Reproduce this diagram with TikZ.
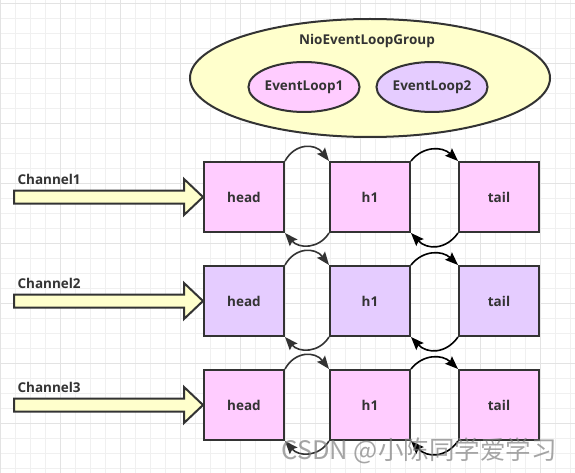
\documentclass[tikz,border=0pt]{standalone}
\usepackage{fontspec}
\setmainfont{Open Sans}
\newfontfamily\cjk{Noto Sans CJK SC}
\usetikzlibrary{arrows.meta,calc,shapes.geometric}
\definecolor{yel}{HTML}{FFFFCC}
\definecolor{pnk}{HTML}{FFCCFF}
\definecolor{lav}{HTML}{E5CCFF}
\definecolor{edge}{HTML}{333333}
\definecolor{txt}{HTML}{333333}
\begin{document}
\begin{tikzpicture}[x=1pt,y=-1pt,
  every node/.style={font=\fontsize{13.5}{15}\selectfont\bfseries,text=txt},
  oval/.style={ellipse,draw=edge,line width=2pt,inner sep=0pt},
  cell/.style={draw=edge,line width=2pt,minimum width=80pt,minimum height=70pt,inner sep=0pt},
  link/.style={draw=edge,line width=1.6pt,-{Stealth[length=13pt,width=10pt,inset=2pt]}},
  blockarrow/.style={draw=edge,line width=2pt,fill=yel,line join=miter},
  minor/.style={draw=gray!12,line width=0.8pt},
  major/.style={draw=gray!22,line width=0.8pt}]
\useasboundingbox (0,0) rectangle (575,473);
\fill[white] (0,0) rectangle (575,473);
% grid
\foreach \x in {0,15,...,570} \draw[minor] (\x,0) -- (\x,473);
\foreach \y in {3,18,...,473} \draw[minor] (0,\y) -- (575,\y);
\foreach \x in {0,60,...,570} \draw[major] (\x,0) -- (\x,473);
\foreach \y in {3,63,...,473} \draw[major] (0,\y) -- (575,\y);
% group
\node[oval,fill=yel,minimum width=360pt,minimum height=118pt] (grp) at (370,78) {};
\node (grptitle) at (367,41) {NioEventLoopGroup};
\node[oval,fill=pnk,minimum width=104pt,minimum height=50pt] (el1) at (304,87) {EventLoop1};
\node[oval,fill=lav,minimum width=104pt,minimum height=50pt] (el2) at (432,87) {EventLoop2};
% rows
\foreach \r/\yy/\c in {1/197/pnk,2/301/lav,3/405/pnk}{
  \node[cell,fill=\c] (head\r) at (244,\yy) {head};
  \node[cell,fill=\c] (hone\r) at (370,\yy) {h1};
  \node[cell,fill=\c] (tail\r) at (499,\yy) {tail};
  \node[anchor=west] (ch\r) at (14,\yy-18) {Channel\r};
  \draw[blockarrow] ($(head\r.west)+(-189,-6.5)$) -- ($(head\r.west)+(-19,-6.5)$)
     -- ($(head\r.west)+(-19,-18)$) -- (head\r.west) -- ($(head\r.west)+(-19,18)$)
     -- ($(head\r.west)+(-19,6.5)$) -- ($(head\r.west)+(-189,6.5)$) -- cycle;
  \draw[link] (head\r.north east) .. controls ($(head\r.north east)+(10,-18)$) and ($(hone\r.north west)+(-14,-18)$) .. (hone\r.north west);
  \draw[link] (hone\r.south west) .. controls ($(hone\r.south west)+(-10,16)$) and ($(head\r.south east)+(14,16)$) .. (head\r.south east);
  \draw[link,draw=black] (hone\r.north east) .. controls ($(hone\r.north east)+(12,-15)$) and ($(tail\r.north west)+(-16,-15)$) .. (tail\r.north west);
  \draw[link,draw=black] (tail\r.south west) .. controls ($(tail\r.south west)+(-12,17)$) and ($(hone\r.south east)+(16,17)$) .. (hone\r.south east);
}
\node[font=\fontsize{25.5}{27}\selectfont\cjk,text=gray,opacity=0.7] (wm) at (419,451) {CSDN @小陈同学爱学习};
\end{tikzpicture}
\end{document}
